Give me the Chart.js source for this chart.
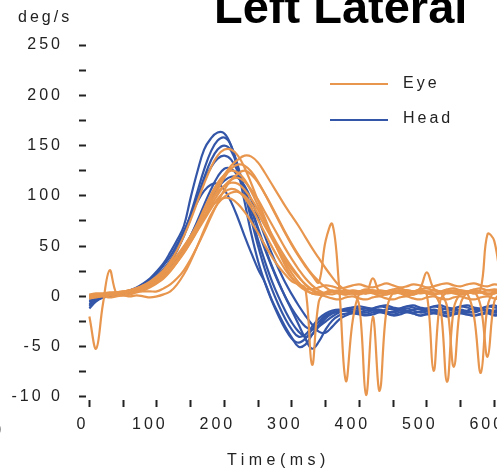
<!DOCTYPE html>
<html>
<head>
<meta charset="utf-8">
<script src="https://cdn.jsdelivr.net/npm/chart.js@4.4.1/dist/chart.umd.min.js"></script>
<style>
  html, body { margin: 0; padding: 0; background: #fff; }
  #wrap { position: relative; width: 497px; height: 471px; overflow: hidden; font-family: 'Liberation Sans', Arial, sans-serif; }
  #wrap canvas { position: absolute; left: 0; top: 0; }
  .txt { position: absolute; white-space: nowrap; color: #222; font-size: 16px; line-height: 16px; letter-spacing: 3px; }
  #title { position: absolute; left: 214px; top: -17px; font-weight: bold; font-size: 47px; line-height: 47px; color: #000; white-space: nowrap; }
  .key { position: absolute; left: 330px; width: 58px; height: 2px; }
  #frag { position: absolute; left: -5px; top: 418px; font-size: 20px; line-height: 20px; color: #000; }
</style>
</head>
<body>
<div id="wrap">
  <canvas id="chart" width="497" height="471"></canvas>
  <div id="title">Left Lateral</div>
  <div class="txt" style="left:18px; top:9px;">deg/s</div>
  <div class="key" style="top:83px; background:#E8964E;"></div>
  <div class="txt" style="left:403px; top:75px;">Eye</div>
  <div class="key" style="top:119px; background:#3456A8;"></div>
  <div class="txt" style="left:403px; top:110px;">Head</div>
  <div class="txt" style="left:227px; top:452px; letter-spacing:4.5px;">Time(ms)</div>
  <div id="frag">)</div>
</div>
<script>
const EYE_COLOR = '#E8964E';
const HEAD_COLOR = '#3456A8';

const timeMs = [
    0, 10, 20, 30, 40, 50, 60, 70, 80, 90,
    100, 110, 120, 130, 140, 150, 160, 170, 180, 190,
    200, 210, 220, 230, 240, 250, 260, 270, 280, 290,
    300, 310, 320, 330, 340, 350, 360, 370, 380, 390,
    400, 410, 420, 430, 440, 450, 460, 470, 480, 490,
    500, 510, 520, 530, 540, 550, 560, 570, 580, 590,
    600, 610
];

const xTickValues = [0, 50, 100, 150, 200, 250, 300, 350, 400, 450, 500, 550, 600];
const xTickLabels = ['0', '', '100', '', '200', '', '300', '', '400', '', '500', '', '600'];
const yTickValues = [-100, -75, -50, -25, 0, 25, 50, 75, 100, 125, 150, 175, 200, 225, 250];
const yTickLabels = ['-10 0', '', '-5 0', '', '0', '', '50', '', '100', '', '150', '', '200', '', '250'];

// eye velocity traces (deg/s)
const eye1 = [
    0, 1, 2, 2, 3, 4, 5, 6, 8, 11,
    15, 20, 27, 35, 45, 57, 70, 84, 98, 110,
    121, 130, 136, 140, 139, 133, 123, 112, 101, 90,
    80, 70, 59, 48, 38, 28, 19, 11, 6, 3,
    2, 4, 3, 1, 2, 4, 3, 1, 2, 4,
    3, 2, 4, 5, 3, 2, 3, 5, 4, 2,
    3, 4
];
const eye2 = [
    -2, 0, 1, 2, 3, 4, 5, 7, 10, 14,
    19, 26, 35, 46, 60, 76, 94, 112, 128, 140,
    146, 146, 140, 128, 112, 95, 78, 61, 45, 31,
    19, 12, 8, 7, 9, 11, 10, 8, 9, 11,
    12, 10, 9, 11, 13, 11, 9, 10, 12, 11,
    9, 10, 12, 13, 11, 10, 12, 13, 11, 10,
    12, 11
];
const eye3 = [
    -20, -52, -8, 26, 3, 1, 2, 4, 6, 9,
    13, 18, 25, 34, 45, 58, 72, 87, 101, 113,
    121, 125, 123, 116, 104, 90, 75, 60, 46, 34,
    23, 14, 7, 3, 2, 3, 5, 4, 2, 3,
    5, 6, 4, 3, 5, 6, 4, 3, 4, 6,
    5, 3, 4, 6, 5, 3, 4, 6, 5, 3,
    4, 6
];
const eye4 = [
    1, 2, 2, 3, 3, 4, 6, 8, 11, 15,
    20, 26, 33, 41, 50, 60, 70, 80, 89, 95,
    98, 97, 92, 84, 74, 63, 51, 40, 30, 22,
    15, 12, 8, -68, -5, 4, 6, 3, 2, 4,
    -10, -98, -20, -94, -15, 4, 6, 3, 2, 5,
    4, 2, 3, 5, 4, 2, 3, 5, 4, 2,
    3, 5
];
const eye5 = [
    -1, 0, 1, 2, 2, 3, 4, 6, 8, 11,
    15, 20, 26, 34, 43, 54, 66, 79, 93, 106,
    118, 127, 131, 130, 124, 114, 102, 89, 76, 63,
    51, 40, 30, 21, 14, 55, 72, 10, -84, -25,
    3, 5, 4, 4, 5, 3, 4, 6, 5, 3,
    4, 6, 5, 3, 4, 6, 5, 3, 4, 6,
    5, 3
];
const eye6 = [
    2, 3, 3, 4, 4, 5, 6, 8, 10, 13,
    17, 22, 28, 36, 45, 55, 66, 78, 90, 101,
    110, 116, 118, 114, 106, 96, 84, 72, 60, 48,
    37, 27, 18, 11, 6, 3, 2, 4, 6, 5,
    3, 4, 6, 5, 3, 4, 6, 5, 3, 4,
    2, -74, -4, 4, 6, 5, 3, -20, -76, -10,
    5, 6
];
const eye7 = [
    0, 1, 1, 2, 3, 4, 5, 7, 9, 12,
    16, 21, 27, 35, 44, 54, 65, 76, 87, 97,
    104, 107, 105, 98, 88, 76, 63, 50, 38, 27,
    18, 11, 6, 3, 2, 4, 5, 3, 2, 4,
    5, 3, 18, 4, 2, 4, 5, 3, 2, 4,
    5, 3, -10, -85, -12, 3, 5, 3, 8, 62,
    55, 10
];
const eye8 = [
    -1, 0, 1, 1, 2, 3, 4, 5, 5, 5,
    5, 8, 12, 18, 26, 37, 50, 64, 79, 93,
    106, 116, 122, 125, 121, 113, 102, 90, 77, 64,
    52, 41, 31, 22, 15, 9, 5, 3, 4, 6,
    5, 3, 4, 6, 5, 3, 4, 6, 5, 8,
    24, 8, 4, -10, -70, -8, 4, 5, -10, -60,
    -5, 4
];
const eye9 = [
    1, 2, 2, 3, 4, 5, 6, 8, 11, 14,
    18, 24, 31, 39, 49, 60, 72, 84, 95, 104,
    110, 113, 112, 106, 97, 86, 74, 62, 50, 39,
    29, 20, 12, 6, 2, 0, -2, -3, -1, 0,
    -2, -3, -1, 0, -2, -3, -1, 0, -2, -3,
    -1, 0, -2, -3, -1, 0, -2, -3, -1, 0,
    -2, -3
];
const eye10 = [
    -2, -1, 0, -1, 0, 1, 0, 1, 0, -1,
    0, 2, 5, 12, 22, 35, 50, 66, 81, 92,
    99, 103, 104, 100, 92, 82, 70, 58, 46, 36,
    27, 19, 12, 7, 4, 3, 5, 6, 4, 3,
    5, 7, 6, 4, 5, 7, 8, 6, 5, 7,
    8, 6, 5, 7, 8, 6, 5, 7, 8, 6,
    7, 6
];

// head velocity traces (deg/s)
const head1 = [
    -10, -4, -1, 0, 2, 4, 6, 9, 13, 18,
    25, 33, 44, 56, 70, 98, 124, 146, 157, 163,
    162, 150, 130, 104, 76, 50, 27, 8, -8, -22,
    -33, -40, -38, -30, -22, -17, -14, -13, -14, -15,
    -13, -12, -14, -15, -13, -12, -14, -15, -13, -12,
    -14, -16, -14, -12, -13, -15, -14, -12, -13, -15,
    -14, -13
];
const head2 = [
    -6, -2, 0, 1, 2, 3, 5, 7, 10, 14,
    19, 26, 35, 46, 60, 78, 98, 118, 135, 146,
    150, 145, 128, 105, 80, 56, 35, 16, 0, -14,
    -26, -35, -40, -38, -30, -22, -17, -15, -14, -13,
    -15, -16, -14, -13, -15, -16, -14, -12, -14, -16,
    -15, -13, -15, -17, -15, -13, -15, -16, -14, -13,
    -15, -16
];
const head3 = [
    -12, -5, -1, 0, 1, 3, 5, 8, 12, 17,
    23, 31, 40, 52, 65, 80, 94, 105, 111, 112,
    106, 94, 78, 60, 43, 27, 14, -3, -17, -30,
    -41, -50, -48, -38, -28, -20, -16, -14, -12, -11,
    -12, -14, -12, -10, -11, -13, -12, -10, -11, -13,
    -12, -10, -11, -13, -12, -10, -11, -13, -12, -10,
    -11, -12
];
const head4 = [
    -8, -3, 0, 1, 2, 3, 4, 6, 8, 11,
    15, 20, 27, 36, 47, 60, 75, 91, 106, 119,
    127, 127, 120, 106, 88, 68, 49, 31, 15, 0,
    -14, -28, -42, -52, -45, -33, -24, -19, -17, -16,
    -17, -18, -16, -15, -17, -18, -16, -15, -17, -19,
    -17, -16, -18, -19, -17, -16, -18, -19, -17, -16,
    -18, -17
];
const head5 = [
    -5, -1, 1, 2, 3, 4, 6, 8, 11, 15,
    20, 27, 36, 48, 63, 80, 98, 115, 128, 137,
    140, 136, 124, 106, 86, 66, 47, 30, 14, 0,
    -12, -22, -30, -33, -30, -25, -20, -16, -13, -11,
    -10, -11, -12, -10, -9, -11, -12, -10, -9, -11,
    -12, -10, -9, -11, -12, -10, -9, -11, -12, -10,
    -9, -11
];
const head6 = [
    -3, 0, 1, 2, 3, 4, 5, 7, 9, 12,
    16, 21, 28, 37, 48, 60, 73, 86, 98, 108,
    115, 119, 118, 110, 96, 78, 60, 43, 28, 14,
    2, -9, -19, -28, -35, -36, -30, -23, -19, -17,
    -18, -19, -18, -16, -17, -19, -18, -16, -17, -19,
    -18, -17, -18, -20, -18, -17, -18, -19, -18, -17,
    -19, -18
];
const head7 = [
    -9, -4, -1, 0, 1, 3, 4, 6, 9, 13,
    18, 25, 34, 46, 62, 82, 104, 126, 144, 155,
    158, 150, 126, 94, 62, 35, 14, -4, -19, -32,
    -42, -46, -42, -33, -25, -19, -16, -15, -14, -15,
    -16, -14, -13, -14, -16, -15, -13, -14, -16, -15,
    -13, -14, -16, -15, -13, -14, -16, -15, -13, -14,
    -16, -15
];

const eyeTraces = [eye1, eye2, eye3, eye4, eye5, eye6, eye7, eye8, eye9, eye10];
const headTraces = [head1, head2, head3, head4, head5, head6, head7];

function toPoints(values) {
    return values.map((v, i) => ({ x: timeMs[i], y: v }));
}

function makeDataset(values, color) {
    return {
        data: toPoints(values),
        borderColor: color,
        backgroundColor: color,
        borderWidth: 2.2,
        pointRadius: 0,
        tension: 0.4,
        fill: false,
    };
}

// eye first so it is drawn on top
const datasets = [
    ...eyeTraces.map((v) => makeDataset(v, EYE_COLOR)),
    ...headTraces.map((v) => makeDataset(v, HEAD_COLOR)),
];

const tickFont = { family: "'Liberation Sans', Arial, sans-serif", size: 16 };

// the tick labels in the figure are widely spaced
const spacingPlugin = {
    id: 'spacing',
    beforeDraw(chart) {
        chart.ctx.letterSpacing = '3px';
    },
};

new Chart(document.getElementById('chart'), {
    type: 'line',
    data: { datasets },
    plugins: [spacingPlugin],
    options: {
        responsive: false,
        animation: false,
        layout: { padding: { top: 45, right: 0, bottom: 0, left: 0 } },
        plugins: {
            legend: { display: false },
            tooltip: { enabled: false },
        },
        scales: {
            x: {
                type: 'linear',
                min: -5,
                max: 604,
                afterBuildTicks(scale) {
                    scale.ticks = xTickValues.map((v) => ({ value: v }));
                },
                afterFit(scale) {
                    scale.height = 71;
                    scale.paddingLeft = 0;
                    scale.paddingRight = 0;
                },
                ticks: {
                    autoSkip: false,
                    maxRotation: 0,
                    labelOffset: -7,
                    padding: 8,
                    color: '#222',
                    font: tickFont,
                    callback: (value, index) => xTickLabels[index],
                },
                grid: {
                    drawOnChartArea: false,
                    drawTicks: true,
                    tickLength: 7,
                    tickWidth: 2,
                    tickColor: '#222',
                },
                border: { display: false },
            },
            y: {
                min: -103,
                max: 250,
                afterBuildTicks(scale) {
                    scale.ticks = yTickValues.map((v) => ({ value: v }));
                },
                afterFit(scale) {
                    scale.width = 86;
                    scale.paddingTop = 0;
                    scale.paddingBottom = 0;
                },
                ticks: {
                    autoSkip: false,
                    padding: 16,
                    color: '#222',
                    font: tickFont,
                    callback: (value, index) => yTickLabels[index],
                },
                grid: {
                    drawOnChartArea: false,
                    drawTicks: true,
                    tickLength: 7,
                    tickWidth: 2,
                    tickColor: '#222',
                },
                border: { display: false },
            },
        },
    },
});
</script>
</body>
</html>
